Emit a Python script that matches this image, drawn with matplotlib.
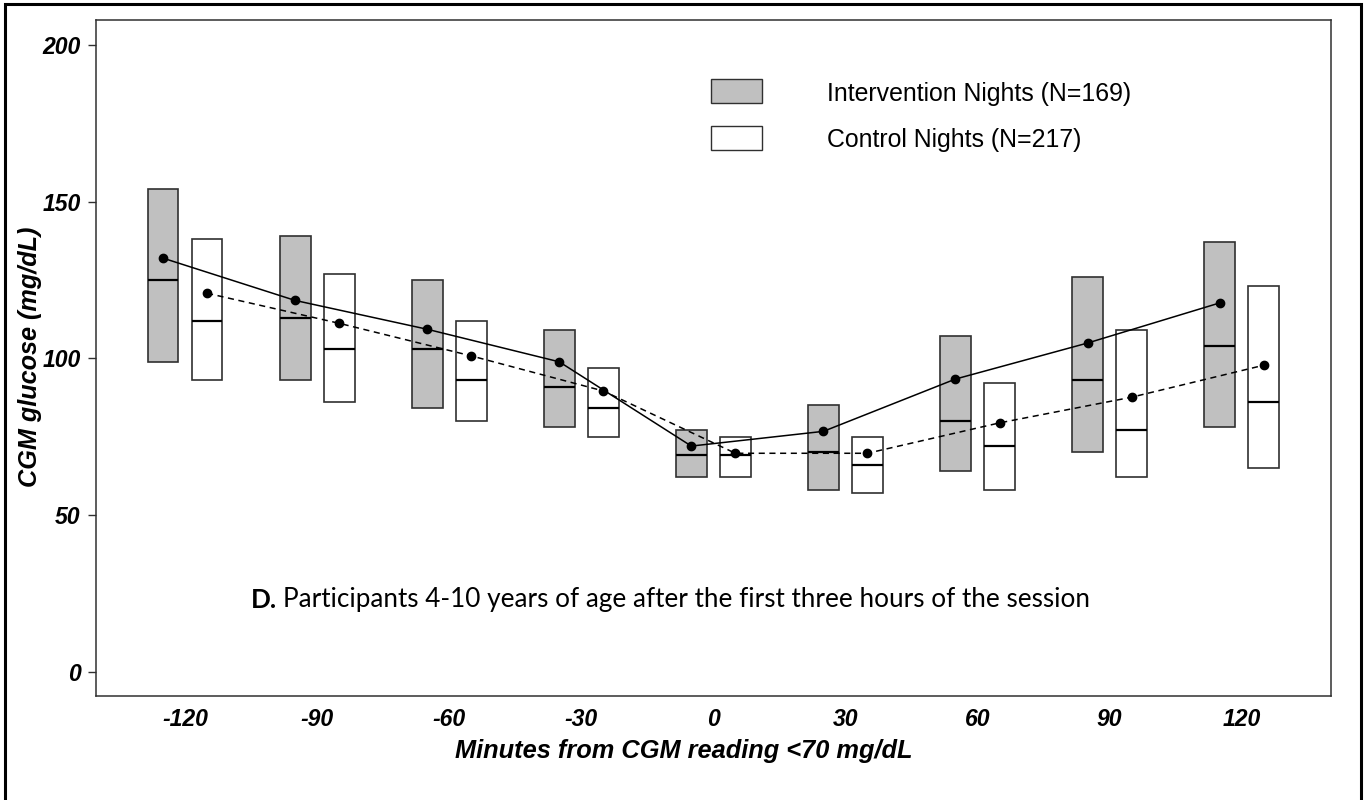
import matplotlib
matplotlib.use("Agg")
import matplotlib.pyplot as plt
from matplotlib.patches import Rectangle
import numpy as np

# ---- data ----
minutes = [-120, -90, -60, -30, 0, 30, 60, 90, 120]
tick_labels = ["-120", "-90", "-60", "-30", "0", "30", "60", "90", "120"]

int_q1 = [99, 93, 84, 78, 62, 58, 64, 70, 78]
int_median = [125, 113, 103, 91, 69, 70, 80, 93, 104]
int_q3 = [154, 139, 125, 109, 77, 85, 107, 126, 137]
int_mean = [132, 118.5, 109.3, 98.9, 72, 76.7, 93.4, 104.9, 117.7]

ctl_q1 = [93, 86, 80, 75, 62, 57, 58, 62, 65]
ctl_median = [112, 103, 93, 84, 69, 66, 72, 77, 86]
ctl_q3 = [138, 127, 112, 97, 75, 75, 92, 109, 123]
ctl_mean = [120.8, 111.2, 100.8, 89.6, 69.7, 69.7, 79.4, 87.6, 97.8]

legend_labels = ["Intervention Nights (N=169)", "Control Nights (N=217)"]
yticks = [0, 50, 100, 150, 200]

W, H = 1367, 800
fig = plt.figure(figsize=(W / 100, H / 100), dpi=100)
ax = fig.add_axes([95.7 / W, 1 - 696 / H, (1331 - 95.7) / W, (696 - 19.5) / H])

offset = 5.0
bw = 7.0
edge = "#303030"

def draw_boxes(xs, q1, med, q3, fill):
    for x, a, m, b in zip(xs, q1, med, q3):
        ax.add_patch(Rectangle((x - bw / 2, a), bw, b - a, facecolor=fill,
                               edgecolor=edge, linewidth=1.2, zorder=2))
        ax.plot([x - bw / 2, x + bw / 2], [m, m], color="black", lw=1.6,
                solid_capstyle="butt", zorder=3)

xi = np.array(minutes) - offset
xc = np.array(minutes) + offset
draw_boxes(xi, int_q1, int_median, int_q3, "#c0c0c0")
draw_boxes(xc, ctl_q1, ctl_median, ctl_q3, "white")

ax.plot(xi, int_mean, color="black", lw=1.1, ls="-", marker="o", ms=6, zorder=4)
ax.plot(xc, ctl_mean, color="black", lw=1.1, ls=(0, (4, 3)), marker="o", ms=6, zorder=4)

ax.set_xlim(-140.3, 140.3)
ax.set_ylim(-7.8, 208.2)
ax.set_xticks(minutes)
ax.set_xticklabels(tick_labels)
ax.set_yticks(yticks)
ax.set_yticklabels([str(v) for v in yticks])
for lab in ax.get_xticklabels() + ax.get_yticklabels():
    lab.set_fontfamily("Liberation Sans")
    lab.set_fontweight("bold")
    lab.set_fontstyle("italic")
    lab.set_fontsize(16.6)
ax.tick_params(axis="x", length=0, pad=9)
ax.tick_params(axis="y", length=6, width=1, color=edge, pad=5)
for s in ax.spines.values():
    s.set_color(edge)
    s.set_linewidth(1.1)

fig.text(683.5 / W, 1 - 751 / H, "Minutes from CGM reading <70 mg/dL", ha="center", va="center",
         family="Liberation Sans", weight="bold", style="italic", size=18.3)
fig.text(30 / W, 1 - 357 / H, "CGM glucose (mg/dL)", ha="center", va="center", rotation=90,
         family="Liberation Sans", weight="bold", style="italic", size=18.2)

# legend
fig.patches.append(Rectangle((710.7 / W, 1 - 103.3 / H), 51.6 / W, 24 / H, transform=fig.transFigure,
                             facecolor="#c0c0c0", edgecolor=edge, lw=1))
fig.patches.append(Rectangle((710.7 / W, 1 - 150 / H), 51.6 / W, 24 / H, transform=fig.transFigure,
                             facecolor="white", edgecolor=edge, lw=1))
fig.text(826.7 / W, 1 - 94 / H, legend_labels[0], ha="left", va="center",
         family="Liberation Sans", size=17.9)
fig.text(826.7 / W, 1 - 140 / H, legend_labels[1], ha="left", va="center",
         family="Liberation Sans", size=17.9)

# annotation
t1 = fig.text(250.7 / W, 1 - 600 / H, "D.", ha="left", va="center", family="Lato", weight="bold", size=18.8)
fig.canvas.draw()
bb = t1.get_window_extent(fig.canvas.get_renderer())
fig.text((bb.x1 + 6) / W, 1 - 600 / H, "Participants 4-10 years of age after the first three hours of the session",
         ha="left", va="center", family="Lato", size=18.8)

# outer border
fig.patches.append(Rectangle((5 / W, -0.05), (1361 - 5) / W, 1.05 - 4 / H, transform=fig.transFigure,
                             facecolor="none", edgecolor="black", lw=2.2))

fig.savefig("out.png", dpi=100)
